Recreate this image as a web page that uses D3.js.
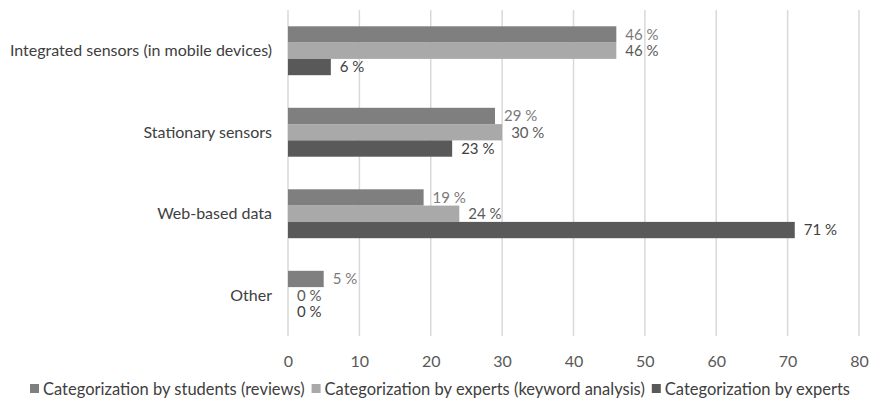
<!DOCTYPE html>
<html>
<head>
<meta charset="utf-8">
<script src="https://cdn.jsdelivr.net/npm/d3@7"></script>
<style>
  html, body { margin: 0; padding: 0; background: #fff; }
  svg { display: block; font-family: Lato, "Open Sans", sans-serif; }
</style>
</head>
<body>
<svg id="chart" width="880" height="407"></svg>
<script>
// Data sources by categorization approach (percent)
const categories = ["Integrated sensors (in mobile devices)", "Stationary sensors", "Web-based data", "Other"];
const seriesNames = [
  "Categorization by students (reviews)",
  "Categorization by experts (keyword analysis)",
  "Categorization by experts"
];
const studentsReviews = [46, 29, 19, 5];
const expertsKeyword = [46, 30, 24, 0];
const experts = [6, 23, 71, 0];
const xTicks = [0, 10, 20, 30, 40, 50, 60, 70, 80];

const seriesValues = [studentsReviews, expertsKeyword, experts];
const barColors = ["#7f7f7f", "#a9a9a9", "#595959"];
const labelColors = ["#7a7a7a", "#5a5a5a", "#404040"];
const fontSize = "16px";

const svg = d3.select("#chart");

const x = d3.scaleLinear().domain([0, 80]).range([288, 859]);
const y = d3.scaleBand().domain(categories).range([10, 336]).paddingInner(0.4).paddingOuter(0.2);
const ySub = d3.scaleBand().domain(d3.range(seriesNames.length)).range([0, y.bandwidth()]).padding(0);

// Vertical gridlines
svg.append("g")
  .selectAll("line")
  .data(xTicks)
  .join("line")
  .attr("x1", d => x(d)).attr("x2", d => x(d))
  .attr("y1", 10).attr("y2", 336)
  .attr("stroke", "#d9d9d9")
  .attr("stroke-width", 1.5);

// X axis with tick labels below the plot
const xAxis = svg.append("g")
  .attr("transform", "translate(0,336)")
  .call(d3.axisBottom(x).tickValues(xTicks).tickSize(0).tickPadding(20));
xAxis.select(".domain").remove();
xAxis.selectAll("text")
  .attr("fill", "#595959")
  .style("font-size", fontSize)
  .style("font-family", "Lato, 'Open Sans', sans-serif");

// Category labels
svg.append("g")
  .selectAll("text")
  .data(categories)
  .join("text")
  .attr("x", 272)
  .attr("y", d => y(d) + y.bandwidth() / 2)
  .attr("dy", "0.35em")
  .attr("text-anchor", "end")
  .attr("fill", "#404040")
  .style("font-size", fontSize)
  .text(d => d);

// Bars and value labels
const rows = [];
categories.forEach((c, ci) => {
  seriesValues.forEach((vals, si) => rows.push({ c, si, v: vals[ci] }));
});

svg.append("g")
  .selectAll("rect")
  .data(rows)
  .join("rect")
  .attr("x", x(0))
  .attr("y", d => y(d.c) + ySub(d.si))
  .attr("width", d => x(d.v) - x(0))
  .attr("height", ySub.bandwidth())
  .attr("fill", d => barColors[d.si]);

svg.append("g")
  .selectAll("text")
  .data(rows)
  .join("text")
  .attr("x", d => x(d.v) + 9)
  .attr("y", d => y(d.c) + ySub(d.si) + ySub.bandwidth() / 2)
  .attr("dy", "0.35em")
  .attr("fill", d => labelColors[d.si])
  .style("font-size", "15px")
  .text(d => d.v + " %");

// Legend
const legend = svg.append("g").attr("transform", "translate(0,389)");
let lx = 30;
seriesNames.forEach((name, i) => {
  const g = legend.append("g").attr("transform", `translate(${lx},0)`);
  g.append("rect").attr("x", 0).attr("y", -5).attr("width", 9).attr("height", 9).attr("fill", barColors[i]);
  const t = g.append("text")
    .attr("x", 13).attr("y", 0).attr("dy", "0.35em")
    .attr("fill", "#404040")
    .style("font-size", "16.5px")
    .text(name);
  lx += 13 + t.node().getComputedTextLength() + 7;
});
</script>
</body>
</html>
